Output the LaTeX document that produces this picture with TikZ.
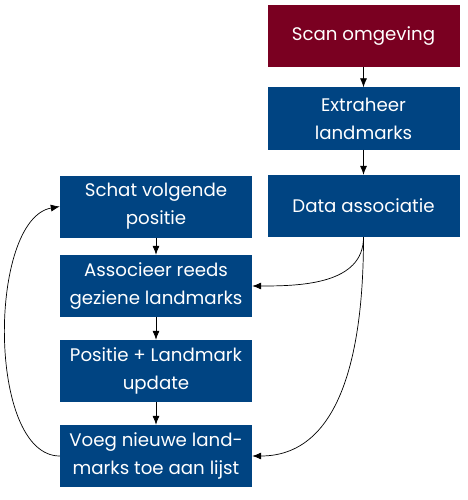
\documentclass[tikz,border=0pt]{standalone}
\usepackage{fontspec}
\setmainfont{Poppins}
\usetikzlibrary{arrows.meta}
\definecolor{boxblue}{HTML}{004482}
\definecolor{boxred}{HTML}{7A0021}
\tikzset{
  stepbox/.style={rectangle, fill=boxblue, text=white, minimum width=192pt, minimum height=62pt, inner sep=0pt, align=center, font=\fontsize{18.2}{28}\selectfont},
  startbox/.style={stepbox, fill=boxred},
  conn/.style={-{Latex[length=9pt,width=7pt]}, line width=0.7pt, black}
}
\begin{document}
\begin{tikzpicture}[x=1pt,y=-1pt]
\useasboundingbox (0,0) rectangle (467,500);
\node[startbox] (scan) at (363.5,36) {Scan omgeving};
\node[stepbox] (extr) at (363.5,118.5) {Extraheer\\landmarks};
\node[stepbox] (data) at (363.5,206) {Data associatie};
\node[stepbox] (schat) at (156,206.5) {Schat volgende\\positie};
\node[stepbox] (assoc) at (156,286) {Associeer reeds\\geziene landmarks};
\node[stepbox] (pos) at (156,371) {Positie + Landmark\\update};
\node[stepbox] (voeg) at (156,456) {Voeg nieuwe land-\\marks toe aan lijst};
\draw[conn] (scan) -- (extr);
\draw[conn] (extr) -- (data);
\draw[conn] (schat) -- (assoc);
\draw[conn] (assoc) -- (pos);
\draw[conn] (pos) -- (voeg);
\draw[conn] (data.south) to[out=-90,in=0] (assoc.east);
\draw[conn] (data.south) to[out=-90,in=0] (voeg.east);
\draw[conn] (voeg.west) to[out=180,in=190,looseness=0.75] (schat.west);
\end{tikzpicture}
\end{document}
